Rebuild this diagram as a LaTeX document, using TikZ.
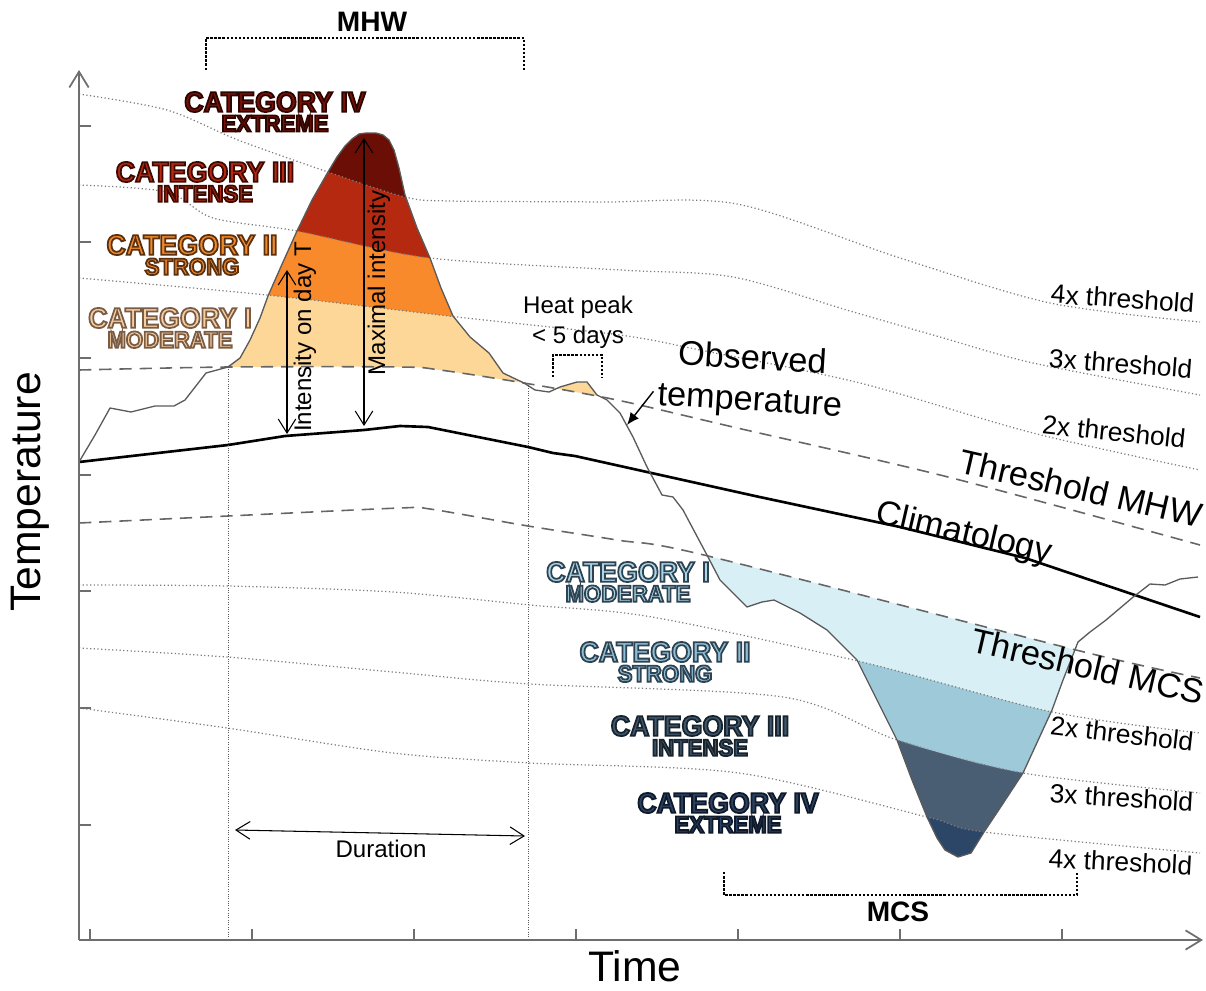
\documentclass[tikz,border=0pt]{standalone}
\usepackage{fontspec}
\setmainfont{Liberation Sans}
\newfontfamily\catfont{Liberation Sans}[FakeStretch=0.94]
\usetikzlibrary{shapes, arrows.meta, positioning, calc}

% text drawn filled and stroked, #1 = stroke colour as r g b
\newcommand\outlined[2]{\special{pdf:literal direct #1 RG 2 Tr 1.0 w}#2\special{pdf:literal direct 0 Tr}}

\definecolor{axisgrey}{HTML}{6E6E6E}
\definecolor{obsgrey}{HTML}{5A5A5A}
\definecolor{dashgrey}{HTML}{666666}
\definecolor{dotgrey}{HTML}{7C7C7C}
\definecolor{hotI}{HTML}{FDD797}
\definecolor{hotII}{HTML}{F88A2C}
\definecolor{hotIII}{HTML}{B4290F}
\definecolor{hotIV}{HTML}{6B0F06}
\definecolor{coldI}{HTML}{D8F0F5}
\definecolor{coldII}{HTML}{9EC9D9}
\definecolor{coldIII}{HTML}{4A5E73}
\definecolor{coldIV}{HTML}{2C4668}
\definecolor{hotItxt}{HTML}{F7CEA0}
\definecolor{hotIItxt}{HTML}{F28A2C}
\definecolor{hotIIItxt}{HTML}{B8290F}
\definecolor{hotIVtxt}{HTML}{7A1108}
\definecolor{coldItxt}{HTML}{A9D7E7}
\definecolor{coldIItxt}{HTML}{8DBFD4}
\definecolor{coldIIItxt}{HTML}{41576D}
\definecolor{coldIVtxt}{HTML}{2A4364}
\def\hotIedge{0.48 0.36 0.27}
\def\hotIIedge{0.36 0.19 0.05}
\def\hotIIIedge{0.24 0.04 0.01}
\def\hotIVedge{0.17 0.02 0}
\def\coldIedge{0.18 0.26 0.32}
\def\coldIIIedge{0.09 0.14 0.18}
\def\coldIVedge{0.06 0.10 0.16}

\begin{document}
\begin{tikzpicture}[x=0.02cm, y=-0.02cm]
    \tikzstyle{axis} = [draw=axisgrey, line width=1pt]
    \tikzstyle{clim} = [draw=black, line width=1.5pt, line join=round]
    \tikzstyle{obsline} = [draw=obsgrey, line width=0.75pt, line join=round]
    \tikzstyle{thr} = [draw=dashgrey, line width=0.9pt, dash pattern=on 7pt off 4.5pt]
    \tikzstyle{mult} = [draw=dotgrey, line width=0.7pt, dash pattern=on 0.7pt off 1.4pt]
    \tikzstyle{guide} = [draw=black!65, line width=0.45pt, dash pattern=on 0.45pt off 0.9pt]
    \tikzstyle{bracket} = [draw=black, line width=1.4pt, dash pattern=on 1.4pt off 0.9pt]
    \tikzstyle{measure} = [{Straight Barb[length=8pt,width=10pt]}-{Straight Barb[length=8pt,width=10pt]}, line width=0.6pt]
    \tikzstyle{cattitle} = [inner sep=0pt, font=\catfont\bfseries\fontsize{16.2}{18}\selectfont]
    \tikzstyle{catsub} = [inner sep=0pt, font=\catfont\bfseries\fontsize{13.4}{15}\selectfont]
    \tikzstyle{axislbl} = [inner sep=0pt, font=\fontsize{24.3}{28}\selectfont]
    \tikzstyle{tag} = [inner sep=0pt, font=\bfseries\fontsize{16}{18}\selectfont]
    \tikzstyle{lbl} = [inner sep=0pt, font=\fontsize{19.5}{23.8}\selectfont]
    \tikzstyle{mlbl} = [inner sep=0pt, font=\fontsize{15}{18}\selectfont]
    \tikzstyle{note} = [inner sep=0pt, font=\fontsize{13.7}{17}\selectfont]
    % curves
    \tikzstyle{obsto} = [insert path={-- plot coordinates {(79,462) (95,435) (110,408) (131,412) (155,406) (174,406) (185,400) (206,373) (228,367) (240,358) (250,340) (260,318) (268,296) (283,262) (297,231) (312,200) (328,172) (337,157) (345,146) (352,139) (359,134) (366,133) (376,133) (383,135) (389,140) (394,150) (399,168) (405,195) (417,228) (430,258) (441,288) (453,316) (470,337) (489,353) (503,373) (524,383) (535,390) (549,392) (560,387) (577,382) (587,382) (597,395) (607,400) (620,413) (633,437) (647,467) (662,495) (673,497) (683,510) (708,557) (720,580) (747,607) (762,602) (774,600) (786,606) (800,613) (827,630) (857,660) (877,700) (897,740) (912,780) (927,817) (937,838) (945,850) (958,857) (971,853) (984,832) (1000,808) (1023,773) (1052,710) (1063,680) (1078,642) (1090,632) (1106,620) (1132,598) (1150,584) (1165,585) (1180,579) (1198,577)}}]
    \tikzstyle{climto} = [insert path={-- plot coordinates {(79,462) (228,445) (285,436) (364,430) (400,426) (428,427) (528,447) (553,453) (575,456) (755,496) (900,527) (1025,558) (1200,617)}}]
    \tikzstyle{mhwthrto} = [insert path={-- plot[smooth, tension=0.5] coordinates {(79,370) (228,367) (400,367) (440,370) (524,383) (617,400) (733,427) (948,477) (1200,545)}}]
    \tikzstyle{mcsthrto} = [insert path={-- plot[smooth, tension=0.5] coordinates {(79,523) (228,516) (400,508) (430,509) (528,526) (617,540) (704,555) (1076,650) (1200,678)}}]
    \tikzstyle{mhwfourto} = [insert path={-- plot[smooth, tension=0.5] coordinates {(79,94) (167,110) (238,140) (328,172) (405,197) (450,201) (600,202) (737,204) (900,258) (1050,303) (1200,322)}}]
    \tikzstyle{mhwthreeto} = [insert path={-- plot[smooth, tension=0.5] coordinates {(79,185) (167,192) (213,218) (297,231) (430,258) (620,270) (733,277) (850,311) (940,337) (1033,363) (1200,395)}}]
    \tikzstyle{mhwtwoto} = [insert path={-- plot[smooth, tension=0.5] coordinates {(79,278) (267,295) (457,317) (620,335) (700,350) (860,383) (1033,433) (1200,470)}}]
    \tikzstyle{mcstwoto} = [insert path={-- plot[smooth, tension=0.5] coordinates {(79,585) (227,586) (393,592) (530,605) (652,617) (862,662) (1052,712) (1200,733)}}]
    \tikzstyle{mcsthreeto} = [insert path={-- plot[smooth, tension=0.5] coordinates {(79,648) (227,657) (393,672) (530,684) (783,697) (897,740) (1023,773) (1200,793)}}]
    \tikzstyle{mcsfourto} = [insert path={-- plot[smooth, tension=0.5] coordinates {(79,708) (227,728) (393,753) (530,763) (739,773) (927,817) (984,832) (1200,853)}}]

    \useasboundingbox (0,0) rectangle (1206,990);

    % heat wave bands
    \begin{scope}
        \clip (79,990) [obsto] -- (1198,990) -- cycle;
        \clip (79,0) [mhwthrto] -- (1200,0) -- cycle;
        \fill[hotI] (79,0) rectangle (1200,990);
        \fill[hotII] (79,0) [mhwtwoto] -- (1200,0) -- cycle;
        \fill[hotIII] (79,0) [mhwthreeto] -- (1200,0) -- cycle;
        \fill[hotIV] (79,0) [mhwfourto] -- (1200,0) -- cycle;
    \end{scope}
    % cold spell bands
    \begin{scope}
        \clip (79,0) [obsto] -- (1198,0) -- cycle;
        \clip (79,990) [mcsthrto] -- (1200,990) -- cycle;
        \fill[coldI] (79,0) rectangle (1200,990);
        \fill[coldII] (79,990) [mcstwoto] -- (1200,990) -- cycle;
        \fill[coldIII] (79,990) [mcsthreeto] -- (1200,990) -- cycle;
        \fill[coldIV] (79,990) [mcsfourto] -- (1200,990) -- cycle;
    \end{scope}

    \draw[mult] (79,94) [mhwfourto];
    \draw[mult] (79,185) [mhwthreeto];
    \draw[mult] (79,278) [mhwtwoto];
    \draw[mult] (79,585) [mcstwoto];
    \draw[mult] (79,648) [mcsthreeto];
    \draw[mult] (79,708) [mcsfourto];
    \draw[thr] (79,370) [mhwthrto];
    \draw[thr] (79,523) [mcsthrto];
    \draw[clim] (79,462) [climto];
    \draw[obsline] (79,462) [obsto];

    \draw[guide] (228,367) -- (228,940);
    \draw[guide] (528,386) -- (528,940);

    \coordinate (origin) at (79,940);
    \coordinate (ytop) at (79,70);
    \coordinate (xend) at (1203,940);
    \draw[axis, -{Straight Barb[length=9pt,width=11pt]}] (origin) -- (ytop);
    \draw[axis, -{Straight Barb[length=9pt,width=11pt]}] (origin) -- (xend);
    \foreach \y in {126,242,358,475,591,708,825} \draw[axis] (79,\y) -- (91,\y);
    \foreach \x in {90,252,414,576,738,900,1062} \draw[axis] (\x,940) -- (\x,929);

    \node[axislbl, rotate=90] (templabel) at (30,492) {Temperature};
    \node[axislbl] (timelabel) at (635,966) {Time};

    \node[tag] (mhwtag) at (372,22) {MHW};
    \node[tag] (mcstag) at (898,912) {MCS};
    \draw[bracket] (206,70) -- (206,38) -- (524,38) -- (524,70);
    \draw[bracket] (724,872) -- (724,895) -- (1077,895) -- (1077,872);
    \draw[bracket] (553,377) -- (553,355) -- (602,355) -- (602,377);

    \node[cattitle, text=hotIVtxt] (hotcatIV) at (275,102) {\outlined{\hotIVedge}{CATEGORY IV}};
    \node[catsub, text=hotIVtxt, below=1.5pt of hotcatIV] (hotcatIVsub) {\outlined{\hotIVedge}{EXTREME}};
    \node[cattitle, text=hotIIItxt] (hotcatIII) at (205,172) {\outlined{\hotIIIedge}{CATEGORY III}};
    \node[catsub, text=hotIIItxt, below=1.5pt of hotcatIII] (hotcatIIIsub) {\outlined{\hotIIIedge}{INTENSE}};
    \node[cattitle, text=hotIItxt] (hotcatII) at (192,245) {\outlined{\hotIIedge}{CATEGORY II}};
    \node[catsub, text=hotIItxt, below=1.5pt of hotcatII] (hotcatIIsub) {\outlined{\hotIIedge}{STRONG}};
    \node[cattitle, text=hotItxt] (hotcatI) at (170,318) {\outlined{\hotIedge}{CATEGORY I}};
    \node[catsub, text=hotItxt, below=1.5pt of hotcatI] (hotcatIsub) {\outlined{\hotIedge}{MODERATE}};

    \node[cattitle, text=coldItxt] (coldcatI) at (628,572) {\outlined{\coldIedge}{CATEGORY I}};
    \node[catsub, text=coldItxt, below=1.5pt of coldcatI] (coldcatIsub) {\outlined{\coldIedge}{MODERATE}};
    \node[cattitle, text=coldIItxt] (coldcatII) at (665,652) {\outlined{\coldIedge}{CATEGORY II}};
    \node[catsub, text=coldIItxt, below=1.5pt of coldcatII] (coldcatIIsub) {\outlined{\coldIedge}{STRONG}};
    \node[cattitle, text=coldIIItxt] (coldcatIII) at (700,726) {\outlined{\coldIIIedge}{CATEGORY III}};
    \node[catsub, text=coldIIItxt, below=1.5pt of coldcatIII] (coldcatIIIsub) {\outlined{\coldIIIedge}{INTENSE}};
    \node[cattitle, text=coldIVtxt] (coldcatIV) at (728,803) {\outlined{\coldIVedge}{CATEGORY IV}};
    \node[catsub, text=coldIVtxt, below=1.5pt of coldcatIV] (coldcatIVsub) {\outlined{\coldIVedge}{EXTREME}};

    \coordinate (dayTtop) at (287,270);
    \coordinate (dayTbot) at (287,434);
    \draw[measure] (dayTbot) -- (dayTtop);
    \node[note, rotate=90] (dayTlabel) at (305,337) {Intensity on day T};
    \coordinate (maxtop) at (364,138);
    \coordinate (maxbot) at (364,426);
    \draw[measure] (maxbot) -- (maxtop);
    \node[note, rotate=90] (maxlabel) at (379,283) {Maximal intensity};
    \coordinate (durleft) at (235,830);
    \coordinate (durright) at (525,836);
    \draw[measure] (durleft) -- (durright);
    \node[note] (durlabel) at (381,849) {Duration};

    \node[note, align=center] (heatpeak) at (578,322) {Heat peak\\< 5 days};

    \node[lbl, align=center, rotate=-3.5] (obslabel) at (751,381) {Observed\\temperature};
    \coordinate (obspoint) at (627,425);
    \draw[line width=0.8pt, -{Latex[length=7pt,width=6pt]}] ($(obslabel.west)+(-5,16)$) -- (obspoint);

    \node[mlbl, anchor=base, rotate=-4] (hotfour) at (1122,308) {4x threshold};
    \node[mlbl, anchor=base, rotate=-4.3] (hotthree) at (1120,373) {3x threshold};
    \node[mlbl, anchor=base, rotate=-6] (hottwo) at (1113,441) {2x threshold};
    \node[lbl, anchor=base, rotate=-13] (mhwthrlabel) at (1078,500) {Threshold MHW};
    \node[lbl, anchor=base, rotate=-13] (climlabel) at (962,543) {Climatology};
    \node[lbl, anchor=base, rotate=-13] (mcsthrlabel) at (1085,678) {Threshold MCS};
    \node[mlbl, anchor=base, rotate=-6.5] (coldtwo) at (1121,743) {2x threshold};
    \node[mlbl, anchor=base, rotate=-3.5] (coldthree) at (1121,807) {3x threshold};
    \node[mlbl, anchor=base, rotate=-3] (coldfour) at (1120,871) {4x threshold};
\end{tikzpicture}
\end{document}
